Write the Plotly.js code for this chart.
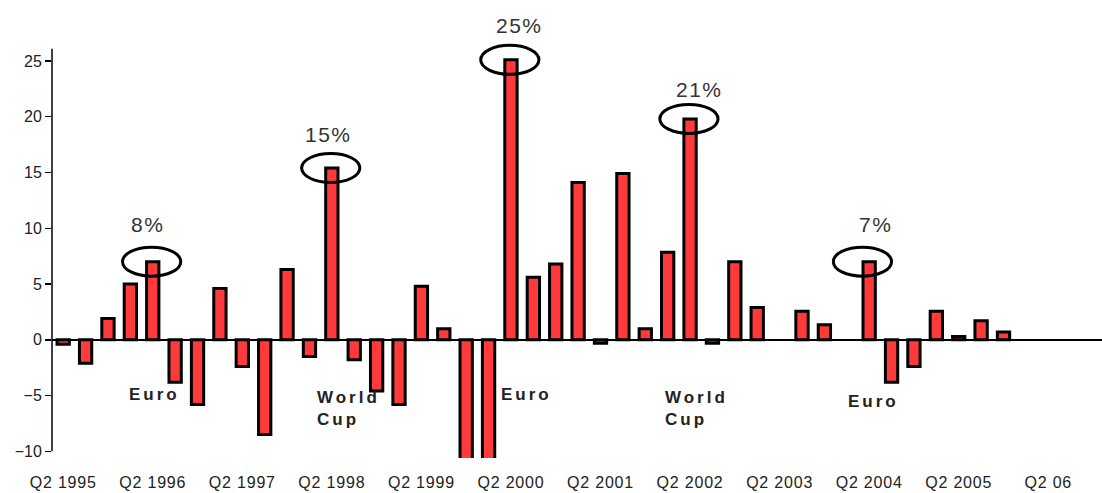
<!DOCTYPE html>
<html>
<head>
<meta charset="utf-8">
<script src="https://cdn.plot.ly/plotly-3.0.1.min.js"></script>
<style>
html,body{margin:0;padding:0;background:#fff;}
#chart{width:1102px;height:493px;}
.xtick text{letter-spacing:0.8px;}
.annotation-text{letter-spacing:1.5px;}
</style>
</head>
<body>
<div id="chart"></div>
<script>
// Quarterly % change, Q2 1995 onward (null = no bar)
const values = [-0.4, -2.1, 1.9, 5.0, 7.0, -3.8, -5.8, 4.6, -2.4, -8.5,
  6.3, -1.5, 15.4, -1.8, -4.6, -5.8, 4.8, 1.0, -13, -13,
  25.1, 5.6, 6.8, 14.1, -0.3, 14.9, 1.0, 7.85, 19.8, -0.3,
  7.0, 2.9, null, 2.55, 1.35, null, 7.0, -3.8, -2.4, 2.55,
  0.3, 1.7, 0.7];
const tickLabels = ["Q2 1995", "Q2 1996", "Q2 1997", "Q2 1998", "Q2 1999", "Q2 2000",
  "Q2 2001", "Q2 2002", "Q2 2003", "Q2 2004", "Q2 2005", "Q2 06"];
const tickIndex = [0, 4, 8, 12, 16, 20, 24, 28, 32, 36, 40, 44];
const yTicks = [-10, -5, 0, 5, 10, 15, 20, 25];
// Highlighted peaks: bar index and label
const peakIndex = [4, 12, 20, 28, 36];
const peakLabels = ["8%", "15%", "25%", "21%", "7%"];
const peakLabelX = [3.75, 11.85, 20.4, 28.4, 36.3];
const peakLabelY = [10.3, 18.4, 28.2, 22.4, 10.3];
// Event notes
const eventText = ["Euro", "World<br>Cup", "Euro", "World<br>Cup", "Euro"];
const eventX = [4.1, 11.25, 20.7, 26.8, 36.2];
const eventY = [-4.9, -6.15, -4.9, -6.15, -5.5];
const eventAlign = ["center", "left", "center", "left", "center"];

const xs = values.map((v, i) => i);

const trace = {
  type: "bar",
  x: xs,
  y: values,
  width: 0.55,
  marker: {color: "#ff3a3a", line: {color: "#000", width: 3}},
  hoverinfo: "x+y",
  cliponaxis: true
};

const shapes = peakIndex.map((i, k) => ({
  type: "circle", xref: "x", yref: "y",
  x0: i - 1.35 + (k === 4 ? -0.25 : 0), x1: i + 1.25 + (k === 4 ? -0.25 : 0),
  y0: values[i] - 1.3, y1: values[i] + 1.3,
  line: {color: "#000", width: 3}
}));
// y axis line, from the lowest to a little above the top tick
shapes.push({
  type: "line", xref: "paper", yref: "y",
  x0: 0, x1: 0, y0: yTicks[0], y1: yTicks[yTicks.length - 1] + 1.1,
  line: {color: "#000", width: 1.5}
});

const annotations = [];
peakIndex.forEach((i, k) => {
  annotations.push({
    x: peakLabelX[k], y: peakLabelY[k], xref: "x", yref: "y",
    text: peakLabels[k], showarrow: false,
    font: {family: "Liberation Sans, Arial, sans-serif", size: 21, color: "#333"}
  });
});
eventText.forEach((t, k) => {
  annotations.push({
    x: eventX[k], y: eventY[k], xref: "x", yref: "y",
    text: t, showarrow: false, align: eventAlign[k],
    xanchor: eventAlign[k] === "left" ? "left" : "center",
    font: {family: "Liberation Sans, Arial, sans-serif", size: 17, color: "#222", weight: "bold"}
  });
});

const layout = {
  width: 1102, height: 493,
  margin: {l: 52, r: 0, t: 13, b: 35},
  paper_bgcolor: "#fff", plot_bgcolor: "#fff",
  showlegend: false,
  bargap: 0,
  xaxis: {
    range: [-0.5, 46.4],
    tickvals: tickIndex, ticktext: tickLabels,
    showgrid: false, zeroline: false, showline: false,
    ticks: "", ticklabelstandoff: 13,
    tickfont: {family: "Liberation Sans, Arial, sans-serif", size: 16, color: "#222"}
  },
  yaxis: {
    range: [-10.6, 29.3],
    tickvals: yTicks,
    showgrid: false,
    zeroline: true, zerolinecolor: "#000", zerolinewidth: 1.5,
    showline: false,
    ticks: "outside", ticklen: 6, tickcolor: "#000", tickwidth: 1.5,
    tickfont: {family: "Liberation Sans, Arial, sans-serif", size: 16, color: "#222"}
  },
  shapes: shapes,
  annotations: annotations
};

Plotly.newPlot("chart", [trace], layout, {displayModeBar: false, staticPlot: true}).then(gd => {
  // wider spacing for the event notes, as in the original
  gd.querySelectorAll(".annotation-text").forEach(el => {
    if (/Euro|World|Cup/.test(el.textContent)) el.style.letterSpacing = "3px";
  });
});
</script>
</body>
</html>
